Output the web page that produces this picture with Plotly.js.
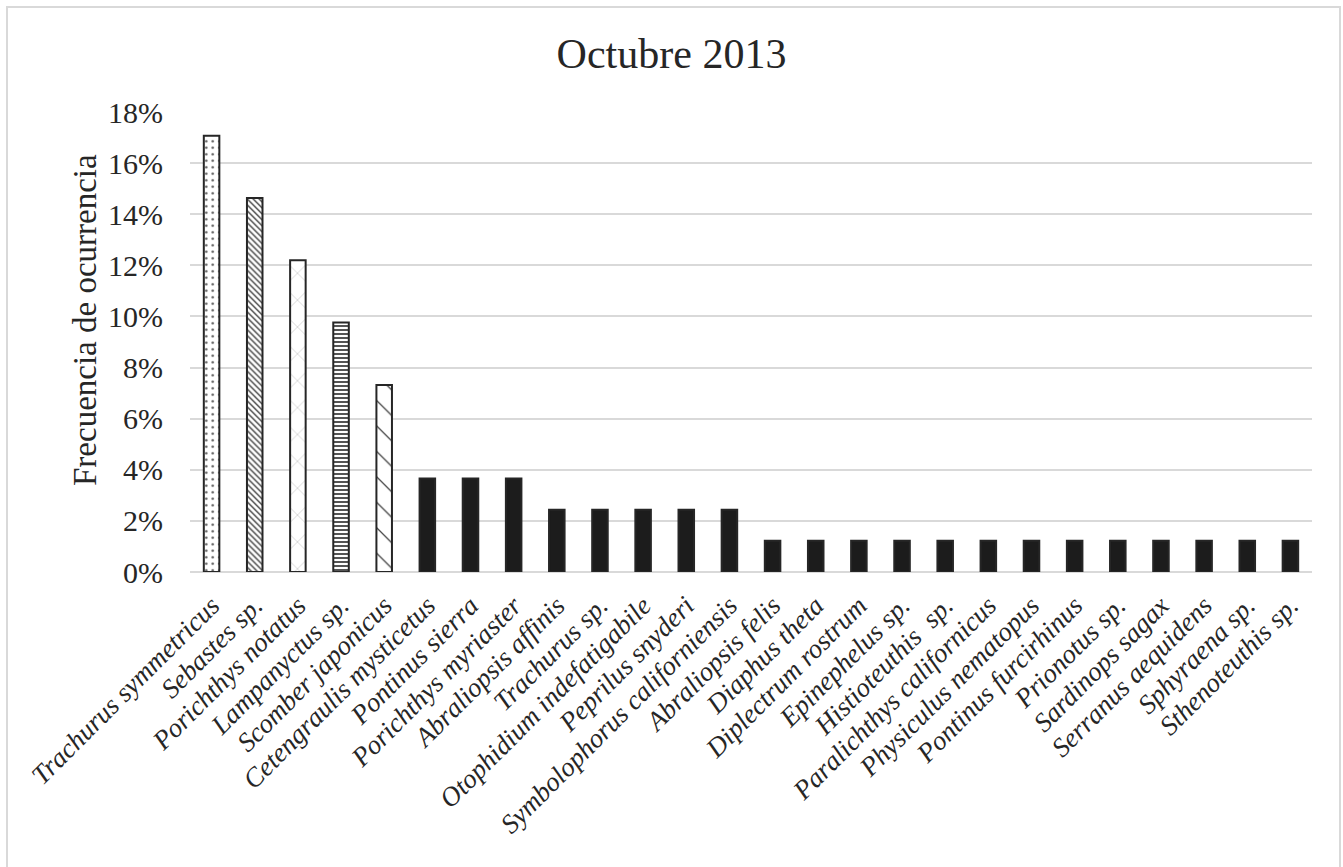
<!DOCTYPE html>
<html>
<head>
<meta charset="utf-8">
<script src="https://cdn.plot.ly/plotly-3.0.1.min.js"></script>
<style>
  html, body { margin: 0; padding: 0; background: #ffffff; }
  #chart { width: 1343px; height: 867px; }
</style>
</head>
<body>
<div id="chart"></div>
<script>
// Species recorded in October 2013
const species = [
  "Trachurus symmetricus", "Sebastes sp.", "Porichthys notatus", "Lampanyctus sp.",
  "Scomber japonicus", "Cetengraulis mysticetus", "Pontinus sierra", "Porichthys myriaster",
  "Abraliopsis affinis", "Trachurus sp.", "Otophidium indefatigabile", "Peprilus snyderi",
  "Symbolophorus californiensis", "Abraliopsis felis", "Diaphus theta", "Diplectrum rostrum",
  "Epinephelus sp.", "Histioteuthis\u00a0\u00a0sp.", "Paralichthys californicus",
  "Physiculus nematopus", "Pontinus furcirhinus", "Prionotus sp.", "Sardinops sagax",
  "Serranus aequidens", "Sphyraena sp.", "Sthenoteuthis sp."
];

// Frequency of occurrence (%)
const frecuencia = [
  17.07, 14.63, 12.20, 9.76, 7.32,
  3.66, 3.66, 3.66,
  2.44, 2.44, 2.44, 2.44, 2.44,
  1.22, 1.22, 1.22, 1.22, 1.22, 1.22, 1.22, 1.22, 1.22, 1.22, 1.22, 1.22, 1.22
];

// Hatch fills for the five most frequent species; the rest are solid black
const patternShapes = [".", "\\", "x", "-", "\\"];
const patternSizes = [6.5, 4.2, 19, 4, 18];
const patternSolidity = [0.12, 0.32, 0.03, 0.5, 0.07];
const patternInk = ["#555555", "#3a3a3a", "#777777", "#555555", "#444444"];

const serif = "'Liberation Serif', 'Times New Roman', serif";
const outline = { color: "#262626", width: 2 };

const traces = [];
patternShapes.forEach((shape, i) => {
  traces.push({
    type: "bar",
    x: [species[i]],
    y: [frecuencia[i]],
    marker: {
      color: "#ffffff",
      line: outline,
      pattern: {
        shape: shape,
        size: patternSizes[i],
        solidity: patternSolidity[i],
        fgcolor: patternInk[i],
        bgcolor: "#ffffff",
        fillmode: "replace"
      }
    },
    hoverinfo: "x+y"
  });
});

traces.push({
  type: "bar",
  x: species.slice(patternShapes.length),
  y: frecuencia.slice(patternShapes.length),
  marker: { color: "#1c1c1c", line: outline },
  hoverinfo: "x+y"
});

const layout = {
  width: 1343,
  height: 867,
  paper_bgcolor: "#ffffff",
  plot_bgcolor: "#ffffff",
  margin: { l: 190, r: 31, t: 112, b: 295 },
  barmode: "overlay",
  bargap: 0.64,
  showlegend: false,
  font: { family: serif, color: "#262626" },
  title: {
    text: "Octubre 2013",
    font: { family: serif, size: 42, color: "#262626" },
    x: 0.5, xref: "container", xanchor: "center",
    y: 1 - 53 / 867, yref: "container", yanchor: "middle"
  },
  xaxis: {
    type: "category",
    categoryorder: "array",
    categoryarray: species,
    tickangle: -45,
    tickfont: { family: serif, size: 27, style: "italic", color: "#262626" },
    ticks: "outside",
    ticklen: 6,
    tickcolor: "rgba(0,0,0,0)",
    showline: false,
    showgrid: false,
    automargin: false
  },
  yaxis: {
    range: [0, 18],
    dtick: 2,
    ticksuffix: "%",
    tickfont: { family: serif, size: 30, color: "#262626" },
    ticks: "",
    ticklabelstandoff: 26,
    showgrid: true,
    gridcolor: "#d9d9d9",
    gridwidth: 1.5,
    zeroline: true,
    zerolinecolor: "#d9d9d9",
    zerolinewidth: 1.5,
    showline: false,
    automargin: false
  },
  annotations: [{
    text: "Frecuencia de ocurrencia",
    xref: "paper", yref: "paper",
    x: (85 - 190) / 1122, y: (572 - 320) / 460,
    xanchor: "center", yanchor: "middle",
    textangle: -90,
    showarrow: false,
    font: { family: serif, size: 33, color: "#262626" }
  }],
  shapes: [{
    type: "rect", xref: "paper", yref: "paper",
    x0: (7 - 190) / 1122, x1: (1340 - 190) / 1122,
    y0: -1, y1: (572 - 7) / 460,
    line: { color: "#d9d9d9", width: 2 },
    fillcolor: "rgba(0,0,0,0)",
    layer: "below"
  }]
};

Plotly.newPlot("chart", traces, layout, { displayModeBar: false });
</script>
</body>
</html>
